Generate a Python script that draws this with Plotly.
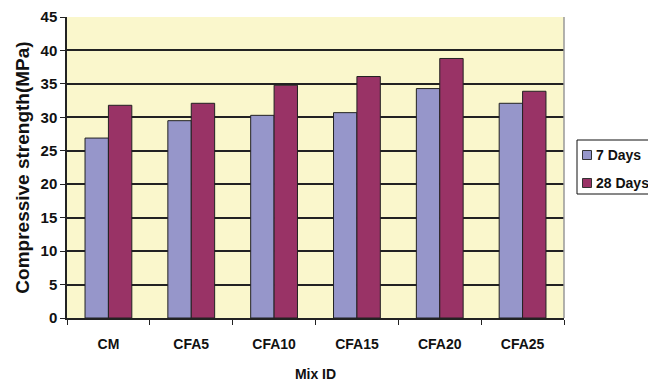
import plotly.graph_objects as go

categories = ["CM", "CFA5", "CFA10", "CFA15", "CFA20", "CFA25"]
days7 = [26.9, 29.5, 30.3, 30.7, 34.3, 32.1]
days28 = [31.8, 32.1, 34.8, 36.1, 38.8, 33.9]
series_names = ["7 Days", "28 Days"]
series_colors = ["#9696CA", "#993366"]

font_family = "Liberation Sans, Arial, sans-serif"

# plot-area geometry in pixels (for placing the hand-drawn legend)
W, H = 648, 382
ML, MR, MT, MB = 67, 84, 17, 64
PW, PH = W - ML - MR, H - MT - MB


def px_x(p):
    return (p - ML) / PW


def px_y(p):
    return (H - MB - p) / PH


fig = go.Figure()
for name, vals, col in zip(series_names, [days7, days28], series_colors):
    fig.add_trace(go.Bar(name=name, x=categories, y=vals, showlegend=False,
                         marker=dict(color=col, line=dict(color="#222222", width=1))))

fig.update_layout(
    width=W, height=H,
    margin=dict(l=ML, r=MR, t=MT, b=MB, autoexpand=False),
    paper_bgcolor="white",
    plot_bgcolor="#FAF7CC",
    barmode="group",
    bargap=0.435,
    bargroupgap=0,
    font=dict(family=font_family, color="#111111"),
    showlegend=False,
    xaxis=dict(
        showgrid=False, showline=True, linecolor="#222222", linewidth=1.5,
        ticks="outside", tickson="boundaries", ticklen=5, tickcolor="#222222",
        tickfont=dict(size=14, family=font_family, weight="bold"),
        ticklabelstandoff=12,
        title=dict(text="<b>Mix ID</b>", font=dict(size=14, family=font_family), standoff=22),
    ),
    yaxis=dict(
        range=[0, 45], dtick=5, tick0=0,
        showgrid=True, gridcolor="#222222", gridwidth=1.5,
        showline=True, linecolor="#222222", linewidth=1.5,
        ticks="outside", ticklen=5, tickcolor="#222222",
        tickfont=dict(size=15, family=font_family, weight="bold"),
        title=dict(text="<b>Compressive strength(MPa)</b>", font=dict(size=19, family=font_family), standoff=6),
        zeroline=False,
    ),
)

# right border of plot area (grey)
fig.add_shape(type="line", xref="paper", yref="paper", x0=1, x1=1, y0=0, y1=1,
              line=dict(color="#999999", width=1.5))

# legend box (extends past the right edge, as in the reference)
fig.add_shape(type="rect", xref="paper", yref="paper",
              x0=px_x(577), x1=px_x(662), y0=px_y(194), y1=px_y(140),
              line=dict(color="#111111", width=1), fillcolor="white")
for i, (name, col) in enumerate(zip(series_names, series_colors)):
    cy = 155 + 28 * i
    fig.add_shape(type="rect", xref="paper", yref="paper",
                  x0=px_x(582.5), x1=px_x(591.5), y0=px_y(cy + 4.5), y1=px_y(cy - 4.5),
                  line=dict(color="#333333", width=1), fillcolor=col)
    fig.add_annotation(xref="paper", yref="paper", x=px_x(594), y=px_y(cy),
                       xanchor="left", yanchor="middle", showarrow=False,
                       text="<b>%s</b>" % name,
                       font=dict(size=14, family=font_family, color="#111111"))

fig.write_html("out.html")
